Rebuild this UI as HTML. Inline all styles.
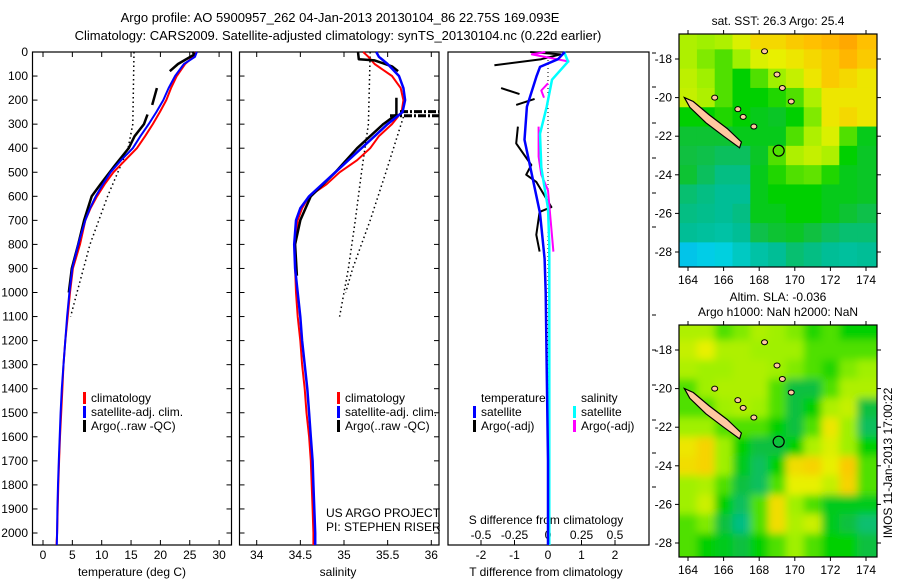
<!DOCTYPE html>
<html><head><meta charset="utf-8"><style>
html,body{margin:0;padding:0;background:#fff;}
svg{display:block;font-family:"Liberation Sans",sans-serif;}
</style></head><body>
<svg id="fig" width="900" height="580" viewBox="0 0 900 580" xmlns="http://www.w3.org/2000/svg">
<defs><filter id="blur" x="0" y="0" width="1" height="1"><feGaussianBlur stdDeviation="4"/></filter>
<clipPath id="cTop"><rect x="679" y="34" width="198" height="233"/></clipPath>
<clipPath id="cBot"><rect x="679" y="325" width="198" height="232"/></clipPath></defs>
<text x="340" y="22" font-size="13" text-anchor="middle">Argo profile: AO 5900957_262 04-Jan-2013 20130104_86 22.75S 169.093E</text>
<text x="338" y="40" font-size="13" text-anchor="middle">Climatology: CARS2009. Satellite-adjusted climatology: synTS_20130104.nc (0.22d earlier)</text>
<g id="g"></g>
</svg>
<script>
// ---------- data ----------
const depths = [0,20,50,100,150,200,250,300,350,400,450,500,550,600,650,700,800,900,1000,1100,1200,1300,1400,1500,1600,1700,1800,1900,2000,2050];
const tempClim = [25.9,25.6,24.2,22.8,21.8,21.0,19.9,18.7,17.4,16.0,14.0,12.0,10.5,9.2,8.1,7.2,6.3,5.1,4.6,4.2,3.8,3.5,3.3,3.1,2.9,2.75,2.6,2.5,2.4,2.3];
const tempSat  = [26.2,25.9,24.0,22.5,21.4,20.5,19.3,18.0,16.6,15.3,13.3,11.5,10.2,9.0,8.0,7.2,6.0,5.0,4.5,4.1,3.8,3.5,3.2,3.0,2.85,2.7,2.55,2.45,2.4,2.35];
const argoTDepth = [0,10,50,80,null,150,220,null,260,300,350,400,470,550,600,700,800,900,1000];
const argoT      = [25.5,25.8,23.0,21.6,null,19.4,18.6,null,17.8,17.2,15.6,14.6,12.3,9.8,8.3,7.0,6.0,4.9,4.4];
const dotTDepth = [0,300,400,600,800,1000,1100];
const dotT      = [15.5,15.3,14.5,11.0,8.0,5.8,4.7];

const salClim = [35.22,35.28,35.35,35.55,35.65,35.68,35.66,35.55,35.4,35.3,35.15,34.95,34.8,34.6,34.52,34.47,34.44,34.44,34.45,34.47,34.5,34.52,34.55,34.57,34.6,34.62,34.63,34.64,34.65,34.65];
const salSat  = [35.37,35.4,35.5,35.63,35.68,35.7,35.67,35.5,35.35,35.2,35.05,34.9,34.75,34.6,34.5,34.45,34.43,34.44,34.47,34.5,34.52,34.55,34.58,34.6,34.62,34.64,34.65,34.66,34.67,34.67];
const argoSDepth = [0,30,35,60,80,null,190,260,300,400,500,600,700,800,930];
const argoS      = [35.16,35.17,35.35,35.55,35.62,null,35.6,35.6,35.45,35.15,34.9,34.62,34.5,34.44,34.46];
const dotS1Depth = [0,300,500,700,900,1100];
const dotS1      = [35.3,35.28,35.2,35.13,35.05,34.95];
const dotS2Depth = [270,500,700,900,1000];
const dotS2      = [35.68,35.48,35.3,35.1,35.02];

const dTDepth = [0,30,62,100,228,365,530,670,860,1000,1400,1700,2050];
const dTsat   = [0.5,0.3,-0.24,-0.34,-0.63,-0.7,-0.45,-0.24,-0.1,-0.07,-0.03,0,0];
const dSDepth = [0,40,115,228,340,480,550,650,800,1200,1700,2050];
const dSsat   = [0.12,0.15,0.03,-0.01,-0.06,-0.05,-0.03,0,0.01,0.01,0.01,0.01];
const dTargoDepth = [0,10,30,55,null,150,175,null,195,220,null,310,380,470,510,540,645,665,760,830];
const dTargo      = [-0.53,0.37,-0.2,-1.6,null,-1.4,-0.85,null,-0.4,-0.95,null,-0.9,-0.95,-0.5,-0.65,-0.35,0.1,-0.25,-0.35,-0.25];
const dSargoDepth = [0,10,40,null,130,160,190,null,310,435,510,575,830];
const dSargo      = [-0.02,-0.12,0.16,null,0,-0.05,-0.03,null,-0.07,-0.07,-0.05,0,0.04];

const depthTicks = [0,100,200,300,400,500,600,700,800,900,1000,1100,1200,1300,1400,1500,1600,1700,1800,1900,2000];
const tempTicks = [0,5,10,15,20,25,30];
const salTicks = [34,34.5,35,35.5,36];
const salTickLabels = ["34","34.5","35","35.5","36"];
const dTTicks = [-2,-1,0,1,2];
const dSTicks = [-0.5,-0.25,0,0.25,0.5];
const dSTickLabels = ["-0.5","-0.25","0","0.25","0.5"];

const lonTicks = [164,166,168,170,172,174];
const latTicks = [-18,-20,-22,-24,-26,-28];
const sstGrid = [
[0.62,0.60,0.62,0.68,0.75,0.75,0.78,0.80,0.82,0.85,0.80],
[0.62,0.58,0.55,0.60,0.68,0.70,0.72,0.75,0.78,0.82,0.78],
[0.64,0.60,0.55,0.50,0.55,0.60,0.65,0.72,0.78,0.75,0.72],
[0.65,0.62,0.55,0.50,0.50,0.52,0.55,0.62,0.72,0.72,0.72],
[0.50,0.50,0.52,0.50,0.48,0.47,0.50,0.58,0.72,0.75,0.72],
[0.46,0.46,0.46,0.48,0.48,0.48,0.55,0.62,0.68,0.55,0.48],
[0.45,0.44,0.42,0.42,0.47,0.55,0.62,0.65,0.62,0.50,0.47],
[0.46,0.42,0.38,0.38,0.48,0.52,0.55,0.56,0.52,0.48,0.47],
[0.40,0.38,0.36,0.36,0.48,0.50,0.50,0.50,0.48,0.48,0.47],
[0.38,0.37,0.36,0.38,0.48,0.48,0.50,0.50,0.48,0.46,0.44],
[0.36,0.35,0.34,0.36,0.44,0.46,0.47,0.45,0.42,0.40,0.40],
[0.22,0.24,0.26,0.30,0.34,0.36,0.40,0.38,0.36,0.35,0.36]];
const slaGrid = [
[0.62,0.62,0.55,0.58,0.62,0.60,0.58,0.52,0.55,0.50,0.50],
[0.65,0.70,0.62,0.62,0.60,0.60,0.60,0.55,0.55,0.55,0.55],
[0.62,0.60,0.60,0.62,0.62,0.60,0.58,0.55,0.52,0.58,0.60],
[0.55,0.60,0.62,0.62,0.62,0.55,0.45,0.45,0.55,0.62,0.62],
[0.55,0.55,0.60,0.62,0.60,0.55,0.45,0.50,0.62,0.65,0.45],
[0.60,0.60,0.55,0.55,0.55,0.50,0.45,0.55,0.72,0.60,0.42],
[0.72,0.76,0.60,0.50,0.45,0.45,0.50,0.62,0.68,0.60,0.50],
[0.74,0.76,0.60,0.48,0.42,0.50,0.74,0.76,0.70,0.78,0.55],
[0.60,0.62,0.55,0.45,0.42,0.55,0.70,0.70,0.65,0.76,0.55],
[0.60,0.66,0.50,0.42,0.55,0.74,0.60,0.55,0.48,0.48,0.48],
[0.55,0.58,0.45,0.38,0.55,0.74,0.62,0.66,0.48,0.45,0.40],
[0.55,0.50,0.48,0.45,0.50,0.55,0.60,0.55,0.50,0.50,0.45]];
const gridLats = [-17,-18,-19,-20,-21,-22,-23,-24,-25,-26,-27,-28];
const gridLons = [164,165,166,167,168,169,170,171,172,173,174];
const argoLon = 169.093, argoLat = -22.75;
const caledoniaLon = [163.8,164.3,165.2,166.2,167.0,166.9,166.0,165.0,164.1];
const caledoniaLat = [-20.0,-20.2,-20.9,-21.6,-22.3,-22.6,-22.0,-21.3,-20.5];
const isletLon = [165.5,167.1,167.7,168.3,169.0,169.3,169.8,166.8];
const isletLat = [-20.0,-21.0,-21.5,-17.6,-18.8,-19.5,-20.2,-20.6];

// ---------- helpers ----------
const NS="http://www.w3.org/2000/svg";
const G=document.getElementById('g');
function mk(tag,attrs,parent){const e=document.createElementNS(NS,tag);for(const k in attrs)e.setAttribute(k,attrs[k]);(parent||G).appendChild(e);return e;}
function txt(x,y,s,attrs,parent){const e=mk('text',Object.assign({x:x,y:y,'font-size':12},attrs||{}),parent);e.textContent=s;return e;}
const yD = d => 52 + d*0.2405;
const xT = t => 43 + t*5.87;
const xS = s => 256.7 + (s-34)*87.3;
const xDT = t => 548 + t*33.5;
const xDS = s => 548 + s*134;
function pathFrom(dArr,vArr,xf){let p='',pen=false;for(let i=0;i<dArr.length;i++){if(dArr[i]===null||vArr[i]===null){pen=false;continue;}p+=(pen?'L':'M')+xf(vArr[i]).toFixed(1)+','+yD(dArr[i]).toFixed(1);pen=true;}return p;}

// ---------- profile panels ----------
const panels=[{x0:32.5,x1:231.5,name:'temperature-panel'},{x0:239.5,x1:439,name:'salinity-panel'},{x0:448,x1:649,name:'difference-panel'}];
panels.forEach(p=>{
  const r=mk('rect',{x:p.x0,y:52,width:p.x1-p.x0,height:493,fill:'none',stroke:'#000','stroke-width':1.2});
  
  
});
depthTicks.forEach(d=>{
  const y=yD(d);
  [0,1].forEach(i=>{const p=panels[i];mk('line',{x1:p.x0,x2:p.x0+5,y1:y,y2:y,stroke:'#000'});mk('line',{x1:p.x1,x2:p.x1-5,y1:y,y2:y,stroke:'#000'});});
  const t=txt(28,y+4,String(d),{'text-anchor':'end'});
  
  
});
[53,87,123,158,193,227,315,350,385,420,453,487].forEach(y=>mk('line',{x1:652,x2:656,y1:y,y2:y,stroke:'#000'}));
tempTicks.forEach(t=>{const x=xT(t);mk('line',{x1:x,x2:x,y1:545,y2:540,stroke:'#000'});mk('line',{x1:x,x2:x,y1:52,y2:57,stroke:'#000'});
  const e=txt(x,559,String(t),{'text-anchor':'middle'});});
salTicks.forEach((s,i)=>{const x=xS(s);mk('line',{x1:x,x2:x,y1:545,y2:540,stroke:'#000'});mk('line',{x1:x,x2:x,y1:52,y2:57,stroke:'#000'});
  const e=txt(x,559,salTickLabels[i],{'text-anchor':'middle'});});
dTTicks.forEach(t=>{const x=xDT(t);mk('line',{x1:x,x2:x,y1:545,y2:540,stroke:'#000'});
  const e=txt(x,559,String(t),{'text-anchor':'middle'});});
dSTicks.forEach((s,i)=>{const x=xDS(s);mk('line',{x1:x,x2:x,y1:545,y2:540,stroke:'#000'});
  const e=txt(x,539,dSTickLabels[i],{'text-anchor':'middle'});});
let e;
e=txt(132,576,'temperature (deg C)',{'text-anchor':'middle'});
e=txt(338,576,'salinity',{'text-anchor':'middle'});
e=txt(546,576,'T difference from climatology',{'text-anchor':'middle'});
e=txt(546,524,'S difference from climatology',{'text-anchor':'middle'});
e=txt(326,517,'US ARGO PROJECT',{});
e=txt(326,531,'PI: STEPHEN RISER',{});

function line(d,name,stroke,w,dash){const a={d:d,fill:'none',stroke:stroke,'stroke-width':w,'stroke-linejoin':'round'};if(dash)a['stroke-dasharray']=dash;const l=mk('path',a);return l;}
line(pathFrom(dotTDepth,dotT,xT),'temp-dotted-line','#000',1.5,'1.5,3');
line(pathFrom(depths,tempClim,xT),'temp-climatology-line','#f00',2);
line(pathFrom(argoTDepth,argoT,xT),'temp-argo-line','#000',2.5);
line(pathFrom(depths,tempSat,xT),'temp-satellite-line','#00f',2);
line(pathFrom(dotS1Depth,dotS1,xS),'sal-dotted-line-1','#000',1.5,'1.5,3');
line(pathFrom(dotS2Depth,dotS2,xS),'sal-dotted-line-2','#000',1.5,'1.5,3');
line(pathFrom(depths,salClim,xS),'sal-climatology-line','#f00',2);
line(pathFrom(argoSDepth,argoS,xS),'sal-argo-line','#000',2.5);
line('M400,'+yD(248)+'L439,'+yD(248)+'M390,'+yD(265)+'L439,'+yD(265),'sal-spike-lines','#000',3,'8,2,2,2');
line(pathFrom(depths,salSat,xS),'sal-satellite-line','#00f',2.5);
line('M548,52L548,545','zero-dotted-line','#000',1,'1,3');
line(pathFrom(dTargoDepth,dTargo,xDT),'t-diff-argo-line','#000',2);
line(pathFrom(dSargoDepth,dSargo,xDS),'s-diff-argo-line','#f0f',2);
line(pathFrom(dSDepth,dSsat,xDS),'s-diff-satellite-line','#0ff',2.5);
line(pathFrom(dTDepth,dTsat,xDT),'t-diff-satellite-line','#00f',2.5);

function legend(x,y,col,label,name){const b=mk('rect',{x:x,y:y-10,width:3,height:12,fill:col});
  const t=txt(x+8,y,label,{});}
legend(83,402,'#f00','climatology','legend-climatology');
legend(83,416,'#00f','satellite-adj. clim.','legend-satellite');
legend(83,430,'#000','Argo(..raw -QC)','legend-argo');
legend(337,402,'#f00','climatology','legend-sal-climatology');
legend(337,416,'#00f','satellite-adj. clim.','legend-sal-satellite');
legend(337,430,'#000','Argo(..raw -QC)','legend-sal-argo');
e=txt(481,402,'temperature',{});
e=txt(581,402,'salinity',{});
legend(473,416,'#00f','satellite','legend-t-satellite');
legend(473,430,'#000','Argo(-adj)','legend-t-argo');
legend(573,416,'#0ff','satellite','legend-s-satellite');
legend(573,430,'#f0f','Argo(-adj)','legend-s-argo');

// ---------- maps ----------
const stops=[[0,[16,96,255]],[0.25,[0,210,230]],[0.36,[0,190,150]],[0.45,[16,192,64]],[0.5,[0,208,0]],[0.6,[160,240,0]],[0.7,[232,240,0]],[0.8,[255,192,0]],[0.9,[255,144,0]],[1,[255,100,0]]];
function cmap(v){for(let i=1;i<stops.length;i++){if(v<=stops[i][0]){const a=stops[i-1],b=stops[i],f=(v-a[0])/(b[0]-a[0]);const c=a[1].map((x,k)=>Math.round(x+(b[1][k]-x)*f));return 'rgb('+c.join(',')+')';}}return 'rgb(255,100,0)';}
function drawMap(top,grid,clip,name,smooth,title1,title2){
  const lonX=l=>688+(l-164)*17.8, latY=a=>top+25+(-18-a)*19.3;
  const cg=mk('g',{'clip-path':'url(#'+clip+')'});
  const inner=mk('g',smooth?{filter:'url(#blur)'}:{},cg);
  if(smooth)mk('rect',{x:670,y:top-10,width:220,height:260,fill:cmap(0.55)},inner);
  grid.forEach((row,r)=>row.forEach((v,c)=>{
    const x0=lonX(gridLons[c]-0.5)-(c===0?20:0),x1=lonX(gridLons[c]+0.5)+(c===row.length-1?20:0);
    const y0=latY(gridLats[r]+0.5)-(r===0?20:0),y1=latY(gridLats[r]-0.5)+(r===grid.length-1?20:0);
    const cell=mk('rect',{x:x0,y:y0,width:x1-x0+0.5,height:y1-y0+0.5,fill:cmap(v)},inner);
    
    
  }));
  const pts=caledoniaLon.map((l,i)=>lonX(l).toFixed(1)+','+latY(caledoniaLat[i]).toFixed(1)).join(' ');
  const isl=mk('polygon',{points:pts,fill:'#ffc8a0',stroke:'#000','stroke-width':1.2},cg);
  isletLon.forEach((l,i)=>{const s=mk('ellipse',{cx:lonX(l),cy:latY(isletLat[i]),rx:3,ry:2.5,fill:'#ffc8a0',stroke:'#000','stroke-width':1},cg);});
  const c=mk('circle',{cx:lonX(argoLon),cy:latY(argoLat),r:5.5,fill:'none',stroke:'#000','stroke-width':1.2});
  const h=(name==='sst-map')?233:232;
  const fr=mk('rect',{x:679,y:top,width:198,height:h,fill:'none',stroke:'#000','stroke-width':1.2});
  lonTicks.forEach(l=>{const x=lonX(l);mk('line',{x1:x,x2:x,y1:top,y2:top-4,stroke:'#000'});mk('line',{x1:x,x2:x,y1:top+h,y2:top+h+4,stroke:'#000'});
    const t=txt(x,top+h+17,String(l),{'text-anchor':'middle'});});
  latTicks.forEach(a=>{const y=latY(a);mk('line',{x1:679,x2:675,y1:y,y2:y,stroke:'#000'});mk('line',{x1:877,x2:881,y1:y,y2:y,stroke:'#000'});
    const t=txt(672,y+4,String(a),{'text-anchor':'end'});});
  if(title2){let t=txt(778,top-24,title1,{'text-anchor':'middle'});
    t=txt(778,top-9,title2,{'text-anchor':'middle'});}
  else{const t=txt(778,top-9,title1,{'text-anchor':'middle'});}
}
drawMap(34,sstGrid,'cTop','sst-map',false,'sat. SST: 26.3 Argo: 25.4');
drawMap(325,slaGrid,'cBot','sla-map',true,'Altim. SLA: -0.036','Argo h1000: NaN h2000: NaN');
e=txt(0,0,'IMOS 11-Jan-2013 17:00:22',{'text-anchor':'middle',transform:'translate(892,463) rotate(-90)'});


</script>
</body></html>
